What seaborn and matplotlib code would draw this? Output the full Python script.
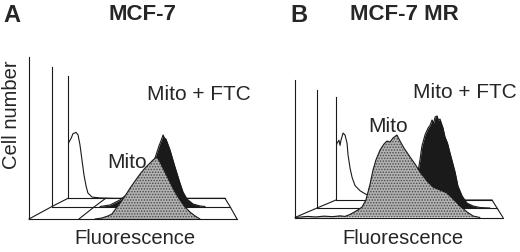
import matplotlib
matplotlib.use("Agg")
import matplotlib.pyplot as plt
import seaborn as sns
import pandas as pd

# Fluorescence channel (0-1000) and relative cell number (0-100) for each histogram

# Panel A: MCF-7
a_ctrl_ch = [0, 6, 19, 32, 51, 64, 76, 89, 102, 115, 127, 153, 204, 300, 500, 1000]
a_ctrl_n = [44, 46, 49, 53, 54, 52, 44, 31.5, 19, 10, 4.3, 1, 0.3, 0, 0, 0]

a_mito_ch = [317, 351, 380, 399, 413, 438, 462, 486, 510, 534, 558, 582, 596, 615,
             630, 654, 678, 702, 726, 750, 774, 798, 822]
a_mito_n = [0, 0.6, 1.9, 3.1, 5.6, 9.9, 14.2, 19.1, 23.5, 27.8, 31.5, 34.6, 36.4, 38.3,
            35.2, 29, 22.8, 16.7, 11.7, 7.4, 4.3, 1.9, 0]

a_ftc_ch = [270, 326, 382, 438, 494, 551, 579, 601, 612, 624, 632, 640, 663, 691,
            719, 736, 758, 792, 831, 860]
a_ftc_n = [0, 1.1, 4.7, 10.4, 19, 29, 34.8, 43.4, 47, 51.3, 49, 48.4, 40.5, 28.3,
           16.8, 10.4, 5.4, 1.8, 0.4, 0]

# Panel B: MCF-7 MR
b_ctrl_ch = [0, 6, 19, 26, 32, 45, 58, 71, 77, 90, 103, 122, 154, 186, 218, 269, 346, 410, 1000]
b_ctrl_n = [52, 55, 58, 53, 58, 65, 63, 55, 44, 31, 22, 14, 9, 6, 4, 2, 1, 0, 0]

b_mito_ch = [0, 24, 60, 100, 140, 180, 216, 240, 264, 303, 322, 341, 361, 375, 389,
             409, 428, 442, 457, 471, 490, 505, 524, 553, 577, 601, 635, 663, 697,
             731, 760, 793, 827, 856, 889]
b_mito_n = [0, 0.3, 0.8, 0.4, 1.0, 0.6, 1.2, 0.8, 2.2, 5.5, 7.6, 12.7, 24.4, 34.5, 41.8,
            49.1, 53.5, 55.6, 54.9, 57.8, 60, 55.6, 50.5, 44, 38.9, 33.1, 26.5, 22.2, 20,
            17.8, 13.5, 8.4, 4, 1.1, 0]

b_ftc_ch = [350, 406, 461, 517, 561, 572, 583, 600, 617, 628, 639, 648, 656, 667,
            675, 683, 700, 711, 725, 739, 767, 783, 806, 833, 867, 906, 961]
b_ftc_n = [0, 1.7, 6.8, 17, 30.5, 40.7, 52.5, 61.9, 67.8, 70, 74.6, 72, 77.1, 78,
           74, 75.4, 67.8, 60.2, 55, 46.6, 30.5, 18.6, 10.2, 4.2, 1.7, 0.4, 0]

# layer frames in pixels: (left, baseline, width, height) for front, middle, back
W, H = 520, 252
frames_a = [(29, 219, 208, 162), (52, 206.5, 178, 139.5), (68, 198.3, 157, 122)]
frames_b = [(295, 217.5, 208, 137.5), (317, 208, 180, 118), (336, 200, 156, 103)]

sns.set_theme(style="white")
plt.rcParams["font.family"] = ["Liberation Sans", "DejaVu Sans"]
plt.rcParams["hatch.linewidth"] = 0.7

fig = plt.figure(figsize=(W / 100, H / 100), dpi=100)
fig.patch.set_facecolor("white")

bg = fig.add_axes([0, 0, 1, 1])
bg.set_xlim(0, W)
bg.set_ylim(H, 0)
bg.axis("off")


def floor(frames, grid=None):
    xs = [f[0] for f in frames]
    ys = [f[1] for f in frames]
    bg.plot(xs, ys, color="k", lw=0.8)
    bg.plot([f[0] + f[2] for f in frames], ys, color="k", lw=0.8)
    if grid is not None:
        bg.plot([f[0] + f[2] * grid for f in frames], ys, color="k", lw=0.8)


def layer(frame, ch, n, kind):
    ox, oy, w, h = frame
    ax = fig.add_axes([ox / W, 1 - oy / H, w / W, h / H])
    ax.patch.set_visible(False)
    df = pd.DataFrame({"ch": ch, "n": n})
    if kind == "mito":
        ax.fill_between(df.ch, df.n, facecolor="#b2b2b2", edgecolor="#4a4a4a",
                        hatch="......", lw=0)
    elif kind == "ftc":
        ax.fill_between(df.ch, df.n, color="k", lw=0)
    sns.lineplot(data=df, x="ch", y="n", ax=ax, color="k", lw=0.8,
                 estimator=None, sort=False, legend=False)
    ax.set_xlim(0, 1000)
    ax.set_ylim(0, 100)
    ax.set_xlabel("")
    ax.set_ylabel("")
    ax.set_xticks([])
    ax.set_yticks([])
    for s in ["top", "right"]:
        ax.spines[s].set_visible(False)
    for s in ["left", "bottom"]:
        ax.spines[s].set_color("k")
        ax.spines[s].set_linewidth(0.8)
    return ax


floor(frames_a, grid=0.24)
floor(frames_b)

# back to front so that the front histogram hides the ones behind
layer(frames_a[2], a_ctrl_ch, a_ctrl_n, "ctrl")
layer(frames_a[1], a_ftc_ch, a_ftc_n, "ftc")
layer(frames_a[0], a_mito_ch, a_mito_n, "mito")
layer(frames_b[2], b_ctrl_ch, b_ctrl_n, "ctrl")
layer(frames_b[1], b_ftc_ch, b_ftc_n, "ftc")
layer(frames_b[0], b_mito_ch, b_mito_n, "mito")


def txt(x, y, s, **kw):
    fig.text(x / W, 1 - y / H, s, ha="center", va="center", **kw)


txt(12, 15, "A", fontsize=17, fontweight="bold")
txt(143, 15, "MCF-7", fontsize=16, fontweight="bold")
txt(299, 15, "B", fontsize=17, fontweight="bold")
txt(404, 15, "MCF-7 MR", fontsize=16, fontweight="bold")
txt(12, 115, "Cell number", fontsize=14.5, rotation=90)
txt(135, 239, "Fluorescence", fontsize=14.5)
txt(403, 239, "Fluorescence", fontsize=14.5)
txt(127, 162, "Mito", fontsize=15)
txt(199, 95, "Mito + FTC", fontsize=15)
txt(388, 127, "Mito", fontsize=15)
txt(465, 93, "Mito + FTC", fontsize=15)

fig.savefig("out.png", dpi=100, facecolor="white")
